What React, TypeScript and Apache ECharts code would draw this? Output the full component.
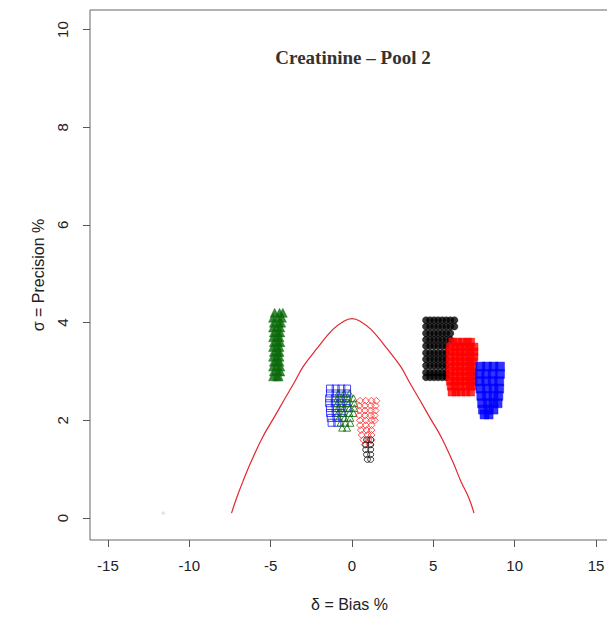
import React, { useEffect, useRef } from "react";
import * as echarts from "echarts";

const xTicks = [-15, -10, -5, 0, 5, 10, 15];
const yTicks = [0, 2, 4, 6, 8, 10];

// Red limit curve [bias, precision]
const limitCurve: number[][] = [
  [-7.4, 0.1], [-7.1, 0.4], [-6.7, 0.75], [-6.2, 1.15], [-5.5, 1.65], [-4.8, 2.05], [-4.2, 2.4],
  [-3.5, 2.8], [-3.0, 3.1], [-2.2, 3.45], [-1.2, 3.85], [-0.5, 4.03], [0, 4.08], [0.5, 4.03],
  [1.2, 3.85], [2.2, 3.45], [3.0, 3.1], [3.5, 2.8], [4.2, 2.4], [4.8, 2.05], [5.5, 1.65],
  [6.2, 1.15], [6.7, 0.75], [7.2, 0.4], [7.5, 0.1],
];

const greenFilled: number[][] = [
  [-4.75, 4.2], [-4.45, 4.2], [-4.25, 4.2],
  [-4.85, 4.1], [-4.55, 4.1], [-4.3, 4.1],
  [-4.8, 4.0], [-4.5, 4.0], [-4.35, 4.0],
  [-4.85, 3.9], [-4.6, 3.9], [-4.4, 3.9],
  [-4.8, 3.8], [-4.55, 3.8], [-4.4, 3.8],
  [-4.85, 3.7], [-4.6, 3.7], [-4.45, 3.7],
  [-4.8, 3.6], [-4.55, 3.6], [-4.4, 3.6],
  [-4.85, 3.5], [-4.6, 3.5], [-4.45, 3.5],
  [-4.8, 3.4], [-4.55, 3.4], [-4.45, 3.4],
  [-4.85, 3.3], [-4.6, 3.3], [-4.45, 3.3],
  [-4.8, 3.2], [-4.6, 3.2], [-4.45, 3.2],
  [-4.85, 3.1], [-4.6, 3.1], [-4.4, 3.1],
  [-4.8, 3.0], [-4.55, 3.0], [-4.4, 3.0],
  [-4.85, 2.9], [-4.6, 2.9], [-4.5, 2.9],
];

const blackFilled: number[][] = [
  [4.55, 4.05], [4.8, 4.05], [5.05, 4.05], [5.3, 4.05], [5.55, 4.05], [5.8, 4.05], [6.05, 4.05], [6.3, 4.05],
  [4.55, 3.92], [4.8, 3.92], [5.05, 3.92], [5.3, 3.92], [5.55, 3.92], [5.8, 3.92], [6.05, 3.92], [6.3, 3.92],
  [4.55, 3.78], [4.8, 3.78], [5.05, 3.78], [5.3, 3.78], [5.55, 3.78], [5.8, 3.78], [6.05, 3.78],
  [4.55, 3.65], [4.8, 3.65], [5.05, 3.65], [5.3, 3.65], [5.55, 3.65], [5.8, 3.65], [6.05, 3.65],
  [4.55, 3.52], [4.8, 3.52], [5.05, 3.52], [5.3, 3.52], [5.55, 3.52], [5.8, 3.52],
  [4.55, 3.38], [4.8, 3.38], [5.05, 3.38], [5.3, 3.38], [5.55, 3.38], [5.8, 3.38],
  [4.55, 3.25], [4.8, 3.25], [5.05, 3.25], [5.3, 3.25], [5.55, 3.25], [5.8, 3.25],
  [4.55, 3.12], [4.8, 3.12], [5.05, 3.12], [5.3, 3.12], [5.55, 3.12], [5.8, 3.12],
  [4.55, 2.98], [4.8, 2.98], [5.05, 2.98], [5.3, 2.98], [5.55, 2.98], [5.8, 2.98],
  [4.55, 2.88], [4.8, 2.88], [5.05, 2.88], [5.3, 2.88], [5.55, 2.88], [5.8, 2.88],
];

const redFilled: number[][] = [
  [6.2, 3.6], [6.5, 3.6], [6.8, 3.6], [7.1, 3.6], [7.3, 3.6],
  [6.05, 3.5], [6.35, 3.5], [6.65, 3.5], [6.95, 3.5], [7.25, 3.5], [7.5, 3.5],
  [6.05, 3.4], [6.35, 3.4], [6.65, 3.4], [6.95, 3.4], [7.25, 3.4], [7.5, 3.4],
  [6.05, 3.3], [6.35, 3.3], [6.65, 3.3], [6.95, 3.3], [7.25, 3.3], [7.5, 3.3],
  [6.05, 3.2], [6.35, 3.2], [6.65, 3.2], [6.95, 3.2], [7.25, 3.2], [7.45, 3.2],
  [6.05, 3.1], [6.35, 3.1], [6.65, 3.1], [6.95, 3.1], [7.25, 3.1], [7.45, 3.1],
  [6.05, 3.0], [6.35, 3.0], [6.65, 3.0], [6.95, 3.0], [7.25, 3.0], [7.45, 3.0],
  [6.05, 2.9], [6.35, 2.9], [6.65, 2.9], [6.95, 2.9], [7.25, 2.9], [7.45, 2.9],
  [6.05, 2.8], [6.35, 2.8], [6.65, 2.8], [6.95, 2.8], [7.25, 2.8], [7.45, 2.8],
  [6.1, 2.7], [6.35, 2.7], [6.65, 2.7], [6.95, 2.7], [7.25, 2.7], [7.4, 2.7],
  [6.15, 2.58], [6.4, 2.58], [6.7, 2.58], [7.0, 2.58], [7.3, 2.58],
];

const blueFilled: number[][] = [
  [7.9, 3.1], [8.3, 3.1], [8.7, 3.1], [9.1, 3.1],
  [7.85, 2.95], [8.25, 2.95], [8.65, 2.95], [9.1, 2.95],
  [7.85, 2.8], [8.25, 2.8], [8.65, 2.8], [9.05, 2.8],
  [7.9, 2.65], [8.3, 2.65], [8.7, 2.65], [9.05, 2.65],
  [7.95, 2.5], [8.3, 2.5], [8.7, 2.5], [9.0, 2.5],
  [8.0, 2.35], [8.35, 2.35], [8.7, 2.35], [8.95, 2.35],
  [8.05, 2.22], [8.4, 2.22], [8.7, 2.22],
  [8.15, 2.12], [8.4, 2.12],
];

const blueOpen: number[][] = [
  [-1.35, 2.65], [-1.0, 2.65], [-0.65, 2.65], [-0.3, 2.65],
  [-1.35, 2.55], [-1.0, 2.55], [-0.65, 2.55], [-0.3, 2.55],
  [-1.4, 2.45], [-1.05, 2.45], [-0.7, 2.45], [-0.35, 2.45],
  [-1.4, 2.35], [-1.05, 2.35], [-0.7, 2.35], [-0.35, 2.35],
  [-1.35, 2.25], [-1.0, 2.25], [-0.65, 2.25], [-0.3, 2.25],
  [-1.35, 2.15], [-1.0, 2.15], [-0.65, 2.15],
  [-1.3, 2.05], [-0.95, 2.05], [-0.6, 2.05],
  [-1.25, 1.95], [-0.9, 1.95],
];

const greenOpen: number[][] = [
  [-0.85, 2.55], [-0.5, 2.55], [-0.15, 2.55],
  [-0.9, 2.45], [-0.55, 2.45], [-0.2, 2.45], [0.1, 2.45],
  [-0.9, 2.35], [-0.55, 2.35], [-0.2, 2.35], [0.15, 2.35],
  [-0.85, 2.25], [-0.5, 2.25], [-0.15, 2.25], [0.15, 2.25],
  [-0.85, 2.15], [-0.5, 2.15], [-0.15, 2.15], [0.1, 2.15],
  [-0.8, 2.05], [-0.45, 2.05], [-0.1, 2.05],
  [-0.7, 1.95], [-0.4, 1.95], [-0.1, 1.95],
  [-0.6, 1.85], [-0.3, 1.85],
];

const redOpen: number[][] = [
  [0.5, 2.4], [0.85, 2.4], [1.2, 2.4], [1.5, 2.4],
  [0.45, 2.3], [0.8, 2.3], [1.15, 2.3], [1.45, 2.3],
  [0.45, 2.2], [0.8, 2.2], [1.15, 2.2], [1.45, 2.2],
  [0.45, 2.1], [0.8, 2.1], [1.15, 2.1], [1.4, 2.1],
  [0.5, 2.0], [0.85, 2.0], [1.2, 2.0], [1.4, 2.0],
  [0.5, 1.9], [0.85, 1.9], [1.2, 1.9],
  [0.55, 1.8], [0.9, 1.8], [1.2, 1.8],
  [0.6, 1.7], [0.95, 1.7], [1.2, 1.7],
  [0.7, 1.6], [1.0, 1.6], [1.2, 1.6],
  [0.8, 1.5], [1.1, 1.5],
];

const blackOpen: number[][] = [
  [0.9, 1.6], [1.15, 1.6],
  [0.85, 1.5], [1.15, 1.5],
  [0.85, 1.4], [1.15, 1.4],
  [0.9, 1.3], [1.15, 1.3],
  [0.95, 1.2], [1.15, 1.2],
];

const strayPoint: number[][] = [[-11.6, 0.1]];

export default function App() {
  const ref = useRef<HTMLDivElement>(null);
  useEffect(() => {
    if (!ref.current) return;
    const chart = echarts.init(ref.current, undefined, { renderer: "svg" });
    const font = "'Liberation Sans', Arial, sans-serif";
    const scatter = (data: number[][], symbol: string, size: number, color: string, open: boolean) => ({
      type: "scatter",
      data,
      symbol,
      symbolSize: size,
      itemStyle: open
        ? { color: "rgba(255,255,255,0)", borderColor: color, borderWidth: 1 }
        : { color, borderColor: color, borderWidth: 0.5 },
      z: 3,
    });
    chart.setOption({
      animation: false,
      backgroundColor: "#ffffff",
      grid: { left: 90, right: 6, top: 10, bottom: 81, show: true, borderColor: "#666", borderWidth: 1, backgroundColor: "transparent" },
      xAxis: {
        type: "value",
        min: -16.1,
        max: 15.8,
        splitLine: { show: false },
        axisLine: { show: false, onZero: false },
        axisTick: { show: true, customValues: xTicks, length: 7, lineStyle: { color: "#555" } },
        axisLabel: { customValues: xTicks, margin: 18, fontSize: 15, color: "#222", fontFamily: font },
        name: "δ = Bias %",
        nameLocation: "middle",
        nameGap: 56,
        nameTextStyle: { fontSize: 16, color: "#222", fontFamily: font },
      },
      yAxis: {
        type: "value",
        min: -0.45,
        max: 10.4,
        splitLine: { show: false },
        axisLine: { show: false, onZero: false },
        axisTick: { show: true, customValues: yTicks, length: 7, lineStyle: { color: "#555" } },
        axisLabel: { customValues: yTicks, rotate: 90, margin: 28, fontSize: 15, color: "#222", fontFamily: font, verticalAlign: "middle", align: "center" },
        name: "σ = Precision %",
        nameLocation: "middle",
        nameGap: 44,
        nameTextStyle: { fontSize: 16, color: "#222", fontFamily: font },
      },
      graphic: [
        {
          type: "text",
          x: 353,
          y: 57,
          style: {
            text: "Creatinine – Pool 2",
            fontFamily: "'Liberation Serif', 'Times New Roman', serif",
            fontWeight: "bold",
            fontSize: 19,
            fill: "#333",
            textAlign: "center",
            textVerticalAlign: "middle",
          },
        },
      ],
      series: [
        {
          type: "line",
          data: limitCurve,
          showSymbol: false,
          smooth: 0.4,
          lineStyle: { color: "#e3262e", width: 1.2 },
          z: 2,
        },
        scatter(strayPoint, "circle", 3, "#dddddd", false),
        scatter(greenFilled, "triangle", 9, "#0a6a0a", false),
        scatter(blackFilled, "circle", 7, "#000000", false),
        scatter(redFilled, "rect", 8, "#ff0000", false),
        scatter(blueFilled, "rect", 9, "#0000ff", false),
        scatter(blueOpen, "rect", 7, "#1a1aff", true),
        scatter(greenOpen, "triangle", 7, "#0a6a0a", true),
        scatter(redOpen, "diamond", 7, "#ff2a2a", true),
        scatter(blackOpen, "circle", 6, "#111111", true),
      ],
    });
    return () => chart.dispose();
  }, []);
  return <div ref={ref} style={{ width: 615, height: 621, margin: -8 }} />;
}
